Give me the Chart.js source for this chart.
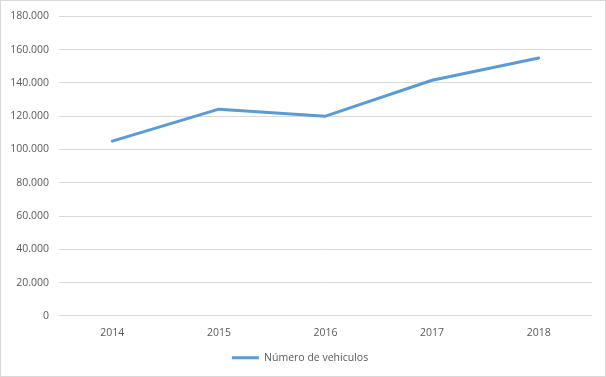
<!DOCTYPE html>
<html><head><meta charset="utf-8">
<script src="https://cdn.jsdelivr.net/npm/chart.js@4"></script>
<style>
html,body{margin:0;padding:0;background:#fff;}
#wrap{position:relative;width:606px;height:377px;}
#frame{position:absolute;left:0;top:0;width:606px;height:377px;box-sizing:border-box;border:1px solid #d9d9d9;pointer-events:none;}
canvas{position:absolute;left:0;top:0;}
</style></head>
<body>
<div id="wrap"><canvas id="c" width="606" height="377"></canvas><div id="frame"></div></div>
<script>
const categories = ['2014','2015','2016','2017','2018'];
const seriesName = 'Número de vehiculos';
const vehiculos = [105000, 124200, 120000, 141600, 155000];
const yTicks = [0,20000,40000,60000,80000,100000,120000,140000,160000,180000];

const fmt = v => v.toLocaleString('de-DE');
const font = {family:'"Open Sans", "Liberation Sans", sans-serif', size:10.5};
new Chart(document.getElementById('c'), {
  type:'line',
  data:{labels:categories, datasets:[{label:seriesName, data:vehiculos, borderColor:'#5b9bd5', backgroundColor:'#5b9bd5', borderWidth:3, pointRadius:0, tension:0, borderCapStyle:'round', borderJoinStyle:'round'}]},
  options:{
    responsive:false, animation:false,
    layout:{padding:{left:8,right:14,top:3,bottom:4}},
    plugins:{
      legend:{position:'bottom', labels:{usePointStyle:true, pointStyle:'line', pointStyleWidth:27, color:'#595959', font, padding:10}},
      tooltip:{enabled:false}
    },
    scales:{
      x:{offset:true, grid:{display:false}, border:{display:false},
         ticks:{color:'#595959', font, padding:3}},
      y:{min:0, max:180000, grid:{color:'#d9d9d9', drawTicks:false}, border:{display:false},
         afterBuildTicks: s => { s.ticks = yTicks.map(v=>({value:v})); },
         afterFit: s => { s.width = 51; },
         ticks:{color:'#595959', font, padding:10, callback:v=>fmt(v)}}
    }
  }
});
</script>
</body></html>
